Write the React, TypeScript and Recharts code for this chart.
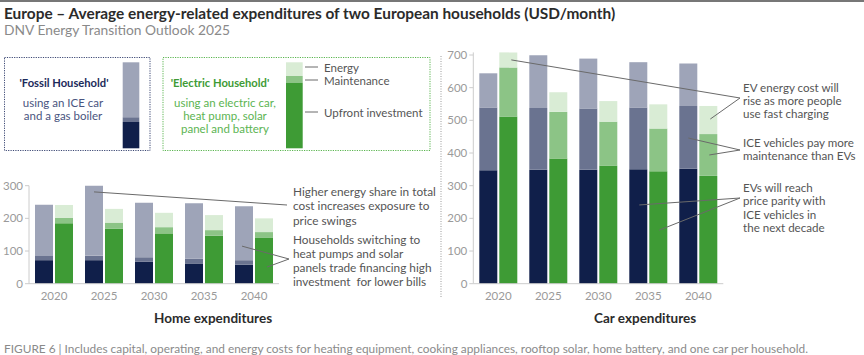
import React from 'react';
import { BarChart, Bar, XAxis, YAxis } from 'recharts';

// ---------- data ----------
const years = ['2020', '2025', '2030', '2035', '2040'];

const homeFossilUpfront = [72, 72, 67, 62, 58];
const homeFossilMaint = [13, 14, 14, 15, 14];
const homeFossilEnergy = [157, 214, 167, 169, 165];
const homeElecUpfront = [185, 168, 154, 147, 140];
const homeElecMaint = [17, 19, 19, 17, 18];
const homeElecEnergy = [39, 42, 44, 46, 42];

const carFossilUpfront = [347, 349, 349, 350, 352];
const carFossilMaint = [192, 189, 187, 189, 192];
const carFossilEnergy = [105, 161, 153, 139, 130];
const carElecUpfront = [512, 383, 362, 344, 330];
const carElecMaint = [150, 143, 134, 131, 128];
const carElecEnergy = [46, 60, 63, 74, 86];

const homeTicks = [0, 100, 200, 300];
const carTicks = [0, 100, 200, 300, 400, 500, 600, 700];

const title = 'Europe \u2013 Average energy-related expenditures of two European households (USD/month)';
const subtitle = 'DNV Energy Transition Outlook 2025';
const footer = 'FIGURE 6 | Includes capital, operating, and energy costs for heating equipment, cooking appliances, rooftop solar, home battery, and one car per household.';

const homeNoteA = ['Higher energy share in total', 'cost increases exposure to', 'price swings'];
const homeNoteB = ['Households switching to', 'heat pumps and solar', 'panels trade financing high', 'investment  for lower bills'];
const carNoteA = ['EV energy cost will', 'rise as more people', 'use fast charging'];
const carNoteB = ['ICE vehicles pay more', 'maintenance than EVs'];
const carNoteC = ['EVs will reach', 'price parity with', 'ICE vehicles in', 'the next decade'];

const homeData = years.map((y, i) => ({
  year: y,
  fu: homeFossilUpfront[i], fm: homeFossilMaint[i], fe: homeFossilEnergy[i],
  eu: homeElecUpfront[i], em: homeElecMaint[i], ee: homeElecEnergy[i],
}));
const carData = years.map((y, i) => ({
  year: y,
  fu: carFossilUpfront[i], fm: carFossilMaint[i], fe: carFossilEnergy[i],
  eu: carElecUpfront[i], em: carElecMaint[i], ee: carElecEnergy[i],
}));

// ---------- style ----------
const C = {
  navy: '#101f4a', navyM: '#6a7390', navyE: '#9ea4b8',
  green: '#3e9b35', greenM: '#8cc486', greenE: '#d9ecd5',
  axis: '#cccccc', tick: '#9a9a9a', note: '#555555', lead: '#6a6a6a',
};
const FONT = "Lato, 'Noto Sans', sans-serif";

// layout
const PX_PER_UNIT = 228.7 / 700;
const PLOT_BOTTOM = 283.7;
const homeMax = Math.max(...homeData.map(d => d.fu + d.fm + d.fe), ...homeData.map(d => d.eu + d.em + d.ee));
const carMax = Math.max(...carData.map(d => d.fu + d.fm + d.fe), ...carData.map(d => d.eu + d.em + d.ee));

const HOME = { left: 0, top: 175, width: 290, height: 140, yw: 29, right: 11, xh: 30 };
const CAR = { left: 440, top: 40, width: 290, height: 275, yw: 33.3, right: 6.7, xh: 30 };

function layout(L: any, max: number) {
  const plotTop = PLOT_BOTTOM - max * PX_PER_UNIT;
  const mTop = plotTop - L.top;
  const mBottom = L.top + L.height - PLOT_BOTTOM - L.xh;
  const plotLeft = L.left + L.yw;
  return { plotTop, mTop, mBottom, plotLeft };
}
const homeL = layout(HOME, homeMax);
const carL = layout(CAR, carMax);

const bx = (plotLeft: number, i: number, side: number) => plotLeft + 50 * i + 25 + side * 10;
const by = (v: number) => PLOT_BOTTOM - v * PX_PER_UNIT;

function StackChart({ L, lay, data, max, ticks }: any) {
  return (
    <div style={{ position: 'absolute', left: L.left, top: L.top }}>
      <BarChart
        width={L.width}
        height={L.height}
        data={data}
        barSize={18}
        barGap={2}
        margin={{ top: lay.mTop, right: L.right, left: 0, bottom: lay.mBottom }}
      >
        <XAxis
          dataKey="year"
          height={L.xh}
          tickLine={false}
          axisLine={{ stroke: C.axis }}
          tick={{ fill: C.tick, fontSize: 11.5, fontFamily: FONT }}
        />
        <YAxis
          width={L.yw}
          domain={[0, max]}
          ticks={ticks}
          tickSize={4}
          axisLine={{ stroke: C.axis }}
          tickLine={{ stroke: C.axis }}
          tick={{ fill: C.tick, fontSize: 11.5, fontFamily: FONT }}
        />
        <Bar dataKey="fu" stackId="f" fill={C.navy} isAnimationActive={false} />
        <Bar dataKey="fm" stackId="f" fill={C.navyM} isAnimationActive={false} />
        <Bar dataKey="fe" stackId="f" fill={C.navyE} isAnimationActive={false} />
        <Bar dataKey="eu" stackId="e" fill={C.green} isAnimationActive={false} />
        <Bar dataKey="em" stackId="e" fill={C.greenM} isAnimationActive={false} />
        <Bar dataKey="ee" stackId="e" fill={C.greenE} isAnimationActive={false} />
      </BarChart>
    </div>
  );
}

function Lines({ x, y, lines, lh, fill, size, weight, anchor }: any) {
  return (
    <text x={x} y={y} fill={fill} fontSize={size} fontWeight={weight || 400} textAnchor={anchor || 'start'} fontFamily={FONT} style={{ whiteSpace: 'pre' }}>
      {lines.map((l: string, i: number) => (
        <tspan key={i} x={x} y={y + i * lh} dominantBaseline="central">{l}</tspan>
      ))}
    </text>
  );
}

export default function App() {
  const hp = homeL.plotLeft;
  const cp = carL.plotLeft;
  const leaders: [number, number, number, number][] = [
    // home
    [bx(hp, 1, -1), by(281), 287, 205],
    [bx(hp, 4, -1) - 2, by(115), 289, 259],
    [bx(hp, 4, 1) + 3, by(51), 289, 259],
    // car
    [bx(cp, 0, 1) + 3, by(685), 740, 98],
    [bx(cp, 4, 1) + 2, by(504), 740, 98],
    [bx(cp, 4, -1), by(446), 740, 150],
    [bx(cp, 4, 1) + 1, by(394), 740, 150],
    [bx(cp, 3, -1) + 1, by(241), 740, 198],
    [bx(cp, 3, 1) + 1, by(164), 740, 198],
  ];

  return (
    <div style={{ position: 'absolute', left: 0, top: 0, width: 864, height: 355, background: '#fff', overflow: 'hidden', fontFamily: FONT }}>
      <StackChart L={HOME} lay={homeL} data={homeData} max={homeMax} ticks={homeTicks} />
      <StackChart L={CAR} lay={carL} data={carData} max={carMax} ticks={carTicks} />

      <svg width={864} height={355} style={{ position: 'absolute', left: 0, top: 0, pointerEvents: 'none' }}>
        <line x1={0} x2={864} y1={1} y2={1} stroke="#4a4a4a" strokeWidth={1.6} />
        <text x={4} y={13} dominantBaseline="central" fontSize={15.4} fontWeight={700} fill="#2b2b2b" fontFamily={FONT}>{title}</text>
        <text x={4} y={29.5} dominantBaseline="central" fontSize={13.8} fill="#8a8a8a" fontFamily={FONT}>{subtitle}</text>

        {/* fossil legend box */}
        <rect x={4.5} y={57.5} width={145.5} height={93} fill="none" stroke="#3c4874" strokeWidth={1} strokeDasharray="1.2 1.2" />
        <text x={64} y={82} dominantBaseline="central" textAnchor="middle" fontSize={11.2} fontWeight={700} fill="#1b2a5a" fontFamily={FONT}>'Fossil Household'</text>
        <Lines x={63} y={102.3} lh={12.8} lines={['using an ICE car', 'and a gas boiler']} fill="#4a5580" size={11.5} anchor="middle" />
        <rect x={122.7} y={62.3} width={16.6} height={55} fill={C.navyE} />
        <rect x={122.7} y={117.3} width={16.6} height={4.7} fill={C.navyM} />
        <rect x={122.7} y={122} width={16.6} height={26.3} fill={C.navy} />

        {/* electric legend box */}
        <rect x={163} y={57.5} width={267} height={93} fill="none" stroke="#5ab54f" strokeWidth={1} strokeDasharray="1.2 1.2" />
        <text x={220} y={82} dominantBaseline="central" textAnchor="middle" fontSize={11.2} fontWeight={700} fill="#3e9b35" fontFamily={FONT}>'Electric Household'</text>
        <Lines x={225} y={102.3} lh={13.3} lines={['using an electric car,', 'heat pump, solar', 'panel and battery']} fill="#5cb452" size={11.5} anchor="middle" />
        <rect x={286} y={62.3} width={16.7} height={13.7} fill={C.greenE} />
        <rect x={286} y={76} width={16.7} height={6.7} fill={C.greenM} />
        <rect x={286} y={82.7} width={16.7} height={65.6} fill={C.green} />
        <line x1={305} x2={318} y1={67} y2={67} stroke={C.lead} />
        <line x1={305} x2={318} y1={80} y2={80} stroke={C.lead} />
        <line x1={305} x2={318} y1={112} y2={112} stroke={C.lead} />
        <text x={324} y={67} dominantBaseline="central" fontSize={11.5} fill={C.note} fontFamily={FONT}>Energy</text>
        <text x={324} y={80} dominantBaseline="central" fontSize={11.5} fill={C.note} fontFamily={FONT}>Maintenance</text>
        <text x={324} y={112.3} dominantBaseline="central" fontSize={11.5} fill={C.note} fontFamily={FONT}>Upfront investment</text>

        {/* separator */}
        <line x1={441} x2={441} y1={56} y2={297} stroke="#9a9a9a" strokeWidth={1} strokeDasharray="1 1.5" />

        {/* leader lines */}
        {leaders.map((l, i) => (
          <line key={i} x1={l[0]} y1={l[1]} x2={l[2]} y2={l[3]} stroke={C.lead} strokeWidth={1} />
        ))}

        {/* notes */}
        <Lines x={293} y={191.7} lh={14.2} lines={homeNoteA} fill={C.note} size={11.8} />
        <Lines x={293} y={239} lh={14} lines={homeNoteB} fill={C.note} size={11.8} />
        <Lines x={743} y={87} lh={13.3} lines={carNoteA} fill={C.note} size={11.6} />
        <Lines x={743} y={142.3} lh={13.6} lines={carNoteB} fill={C.note} size={11.6} />
        <Lines x={743} y={187.5} lh={13.3} lines={carNoteC} fill={C.note} size={11.6} />

        {/* panel titles */}
        <text x={154} y={318} dominantBaseline="central" fontSize={13.5} fontWeight={700} fill="#2b2b2b" fontFamily={FONT}>Home expenditures</text>
        <text x={594} y={318} dominantBaseline="central" fontSize={13.5} fontWeight={700} fill="#2b2b2b" fontFamily={FONT}>Car expenditures</text>

        {/* footer */}
        <text x={4} y={348} dominantBaseline="central" fontSize={11.5} fill="#8a8a8a" fontFamily="'Liberation Sans Narrow', Lato, sans-serif" textLength={804} lengthAdjust="spacingAndGlyphs">{footer}</text>
      </svg>
    </div>
  );
}
